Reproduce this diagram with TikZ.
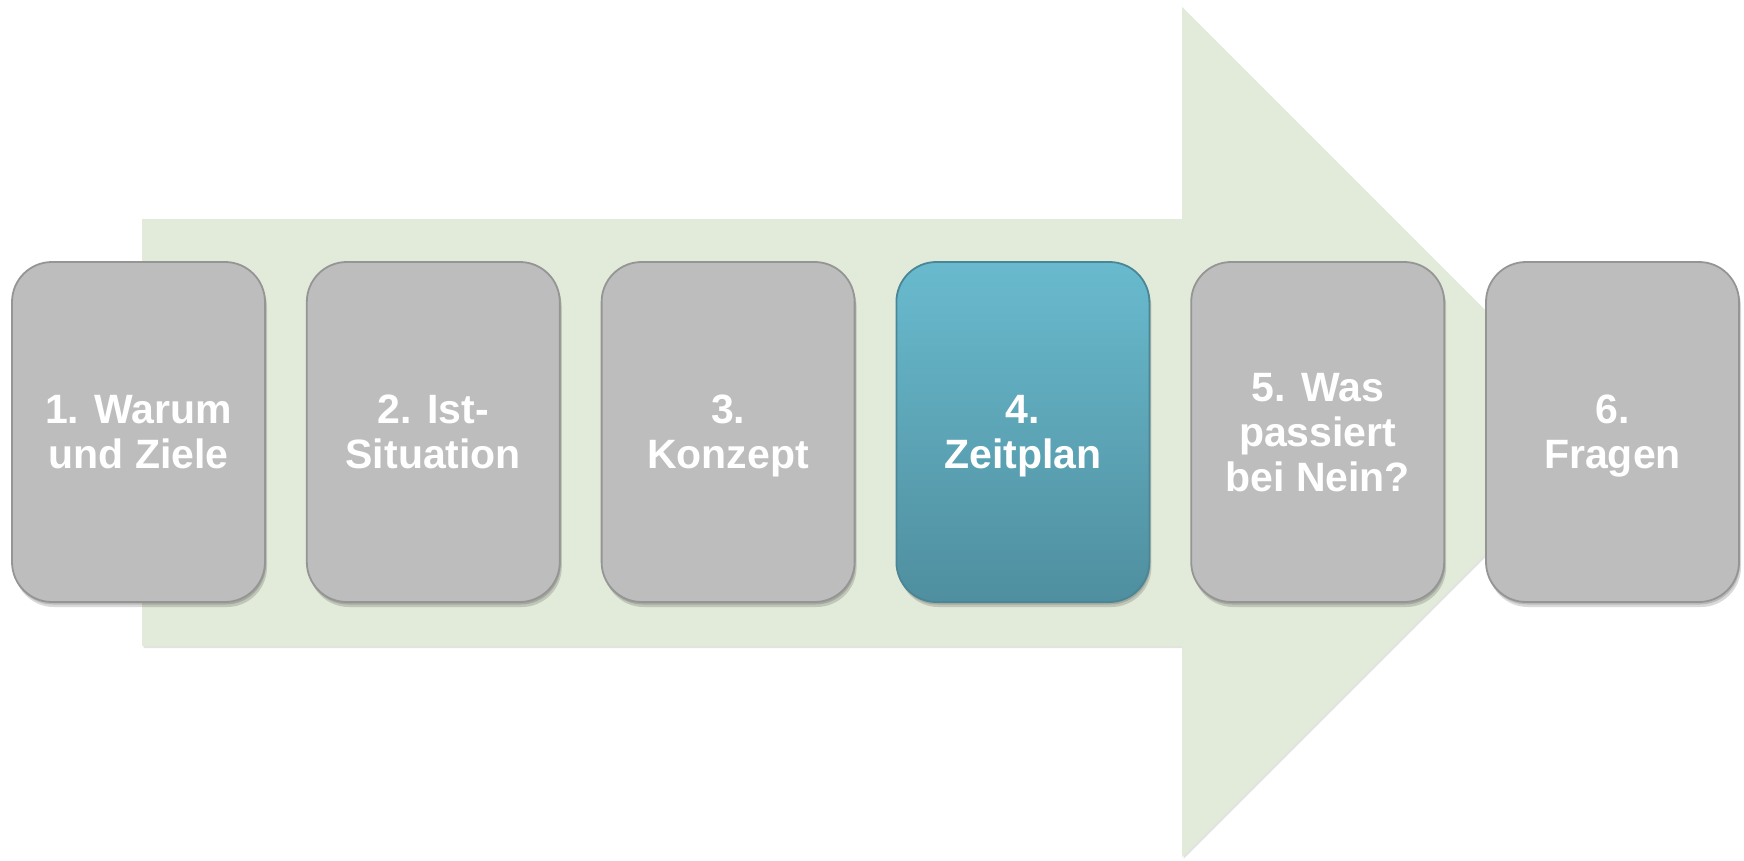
\documentclass[tikz,border=0pt]{standalone}
\usepackage{fontspec}
\setmainfont{Liberation Sans}
\usetikzlibrary{shadows}
\definecolor{arrowgreen}{HTML}{E2EBDA}
\definecolor{arrowshade}{HTML}{C4C9C0}
\definecolor{boxgray}{HTML}{BDBDBD}
\definecolor{boxedge}{HTML}{959595}
\definecolor{tealtop}{HTML}{69BACE}
\definecolor{tealbot}{HTML}{4F8F9F}
\definecolor{tealedge}{HTML}{4A8696}
\begin{document}
\begin{tikzpicture}[x=1pt,y=-1pt,
  stepbox/.style={rounded corners=40pt, minimum width=253pt, minimum height=340pt,
    inner sep=0pt, align=center, text=white, text depth=0pt,
    font=\fontsize{41}{45}\selectfont\bfseries, line width=1.8pt,
    double copy shadow={shadow xshift=1pt, shadow yshift=-2.5pt, opacity=0.15, fill=black, draw=none}},
  graybox/.style={stepbox, fill=boxgray, draw=boxedge},
  tealbox/.style={stepbox, top color=tealtop, bottom color=tealbot, draw=tealedge}]
\useasboundingbox (0,0) rectangle (1744,861);
% big background arrow with soft shadow
\fill[arrowshade, opacity=0.5, xshift=1.5pt, yshift=-2pt]
  (142,219) -- (1182,219) -- (1182,7) -- (1607,432) -- (1182,857) -- (1182,646) -- (142,646) -- cycle;
\fill[arrowgreen]
  (142,219) -- (1182,219) -- (1182,7) -- (1607,432) -- (1182,857) -- (1182,646) -- (142,646) -- cycle;
% step boxes
\node[graybox] (s1) at (138.5,432) {1. Warum\\und Ziele};
\node[graybox] (s2) at (433.3,432) {2. Ist-\\Situation};
\node[graybox] (s3) at (728.1,432) {3.\\Konzept};
\node[tealbox] (s4) at (1022.9,432) {4.\\Zeitplan};
\node[graybox] (s5) at (1317.7,432) {5. Was\\passiert\\bei Nein?};
\node[graybox] (s6) at (1612.5,432) {6.\\Fragen};
\end{tikzpicture}
\end{document}
